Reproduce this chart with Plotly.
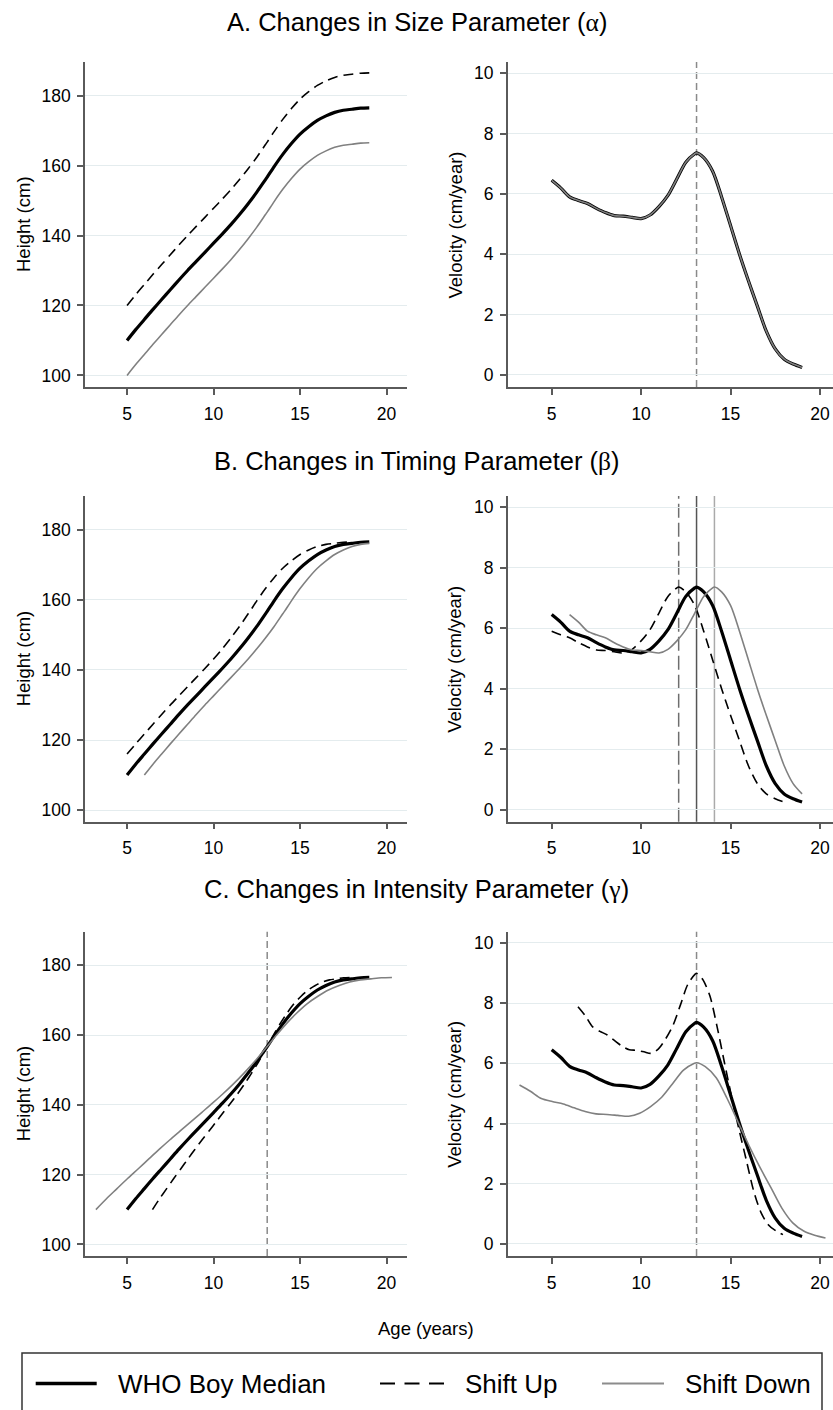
import plotly.graph_objects as go

# ---------------- data ----------------
AGE = [5, 5.5, 6, 6.5, 7, 7.5, 8, 8.5, 9, 9.5, 10, 10.5, 11, 11.5, 12, 12.5,
       13, 13.1, 13.5, 14, 14.5, 15, 15.5, 16, 16.5, 17, 17.5, 18, 18.5, 19]
HEIGHT_MEDIAN = [110.0, 113.1, 116.0, 118.9, 121.7, 124.5, 127.3, 130.0, 132.6, 135.2,
                 137.8, 140.4, 143.1, 146.0, 149.1, 152.4, 156.0, 156.7, 159.7, 163.2,
                 166.3, 169.0, 171.1, 172.9, 174.2, 175.2, 175.8, 176.1, 176.4, 176.5]
VEL_MEDIAN = [6.45, 6.2, 5.9, 5.78, 5.68, 5.52, 5.38, 5.28, 5.26, 5.22,
              5.18, 5.3, 5.58, 5.95, 6.5, 7.05, 7.33, 7.36, 7.2, 6.75,
              5.9, 4.95, 4.0, 3.12, 2.28, 1.45, 0.86, 0.52, 0.36, 0.25]

# Panel A: size shift
HEIGHT_UP_A = [120.0, 123.1, 126.0, 128.9, 131.7, 134.5, 137.3, 140.0, 142.6, 145.2,
               147.8, 150.4, 153.1, 156.0, 159.1, 162.4, 166.0, 166.7, 169.7, 173.2,
               176.3, 179.0, 181.1, 182.9, 184.2, 185.2, 185.8, 186.1, 186.4, 186.5]
HEIGHT_DOWN_A = [100.0, 103.1, 106.0, 108.9, 111.7, 114.5, 117.3, 120.0, 122.6, 125.2,
                 127.8, 130.4, 133.1, 136.0, 139.1, 142.4, 146.0, 146.7, 149.7, 153.2,
                 156.3, 159.0, 161.1, 162.9, 164.2, 165.2, 165.8, 166.1, 166.4, 166.5]
VEL_UP_A = VEL_MEDIAN
VEL_DOWN_A = VEL_MEDIAN
PEAK_A = [13.1]

# Panel B: timing shift
AGE_UP_B = [5, 5.5, 6, 6.5, 7, 7.5, 8, 8.5, 9, 9.5, 10, 10.5, 11, 11.5,
            12, 12.1, 12.5, 13, 13.5, 14, 14.5, 15, 15.5, 16, 16.5, 17, 17.5, 18]
HEIGHT_UP_B = [116.0, 118.9, 121.7, 124.5, 127.3, 130.0, 132.6, 135.2, 137.8, 140.4,
               143.1, 146.0, 149.1, 152.4, 156.0, 156.7, 159.7, 163.2, 166.3, 169.0,
               171.1, 172.9, 174.2, 175.2, 175.8, 176.1, 176.4, 176.5]
VEL_UP_B = [5.9, 5.78, 5.68, 5.52, 5.38, 5.28, 5.26, 5.22, 5.18, 5.3,
            5.58, 5.95, 6.5, 7.05, 7.33, 7.36, 7.2, 6.75, 5.9, 4.95,
            4.0, 3.12, 2.28, 1.45, 0.86, 0.52, 0.36, 0.25]
AGE_DOWN_B = [6, 6.5, 7, 7.5, 8, 8.5, 9, 9.5, 10, 10.5, 11, 11.5, 12, 12.5,
              13, 13.5, 14, 14.1, 14.5, 15, 15.5, 16, 16.5, 17, 17.5, 18, 18.5, 19]
HEIGHT_DOWN_B = [110.0, 113.1, 116.0, 118.9, 121.7, 124.5, 127.3, 130.0, 132.6, 135.2,
                 137.8, 140.4, 143.1, 146.0, 149.1, 152.4, 156.0, 156.7, 159.7, 163.2,
                 166.3, 169.0, 171.1, 172.9, 174.2, 175.2, 175.8, 176.1]
VEL_DOWN_B = [6.45, 6.2, 5.9, 5.78, 5.68, 5.52, 5.38, 5.28, 5.26, 5.22,
              5.18, 5.3, 5.58, 5.95, 6.5, 7.05, 7.33, 7.36, 7.2, 6.75,
              5.9, 4.95, 4.0, 3.12, 2.28, 1.45, 0.86, 0.52]
PEAKS_B = [12.1, 13.1, 14.1]

# Panel C: intensity shift
AGE_UP_C = [6.47, 6.88, 7.29, 7.70, 8.11, 8.52, 8.93, 9.34, 9.75, 10.16,
            10.56, 10.97, 11.38, 11.79, 12.20, 12.61, 13.02, 13.10, 13.43, 13.84,
            14.25, 14.65, 15.06, 15.47, 15.88, 16.29, 16.70, 17.11, 17.52, 17.93]
VEL_UP_C = [7.88, 7.58, 7.21, 7.06, 6.94, 6.75, 6.57, 6.45, 6.43, 6.38,
            6.33, 6.48, 6.82, 7.27, 7.94, 8.62, 8.96, 8.99, 8.80, 8.25,
            7.21, 6.05, 4.89, 3.81, 2.79, 1.77, 1.05, 0.64, 0.44, 0.31]
AGE_DOWN_C = [3.20, 3.81, 4.42, 5.03, 5.65, 6.26, 6.87, 7.48, 8.09, 8.70,
              9.31, 9.92, 10.53, 11.15, 11.76, 12.37, 12.98, 13.10, 13.59, 14.20,
              14.81, 15.42, 16.03, 16.64, 17.26, 17.87, 18.48, 19.09, 19.70, 20.31]
VEL_DOWN_C = [5.28, 5.07, 4.83, 4.73, 4.65, 4.52, 4.40, 4.32, 4.30, 4.27,
              4.24, 4.34, 4.56, 4.87, 5.32, 5.77, 6.00, 6.02, 5.89, 5.52,
              4.83, 4.05, 3.27, 2.55, 1.87, 1.19, 0.70, 0.43, 0.29, 0.20]
HEIGHT_UP_C = HEIGHT_MEDIAN
HEIGHT_DOWN_C = HEIGHT_MEDIAN
PEAK_C = [13.1]

X_TICKS = [5, 10, 15, 20]
H_TICKS = [100, 120, 140, 160, 180]
V_TICKS = [0, 2, 4, 6, 8, 10]

SECTION_TITLES = [
    "A. Changes in Size Parameter (<span style='font-family:Liberation Serif'>\u03b1</span>)",
    "B. Changes in Timing Parameter (<span style='font-family:Liberation Serif'>\u03b2</span>)",
    "C. Changes in Intensity Parameter (<span style='font-family:Liberation Serif'>\u03b3</span>)",
]
LEGEND_LABELS = ["WHO Boy Median", "Shift Up", "Shift Down"]

# ---------------- layout helpers ----------------
W, H = 833, 1410
FONT = "Liberation Sans, Arial, Helvetica, sans-serif"


def px(x):
    return x / W


def py(y):
    return 1 - y / H


ROWS = [(62, 387), (496, 821.7), (931.7, 1256)]
LEFT_X = (85, 407)
RIGHT_X = (507.7, 833)
LEFT_RANGE = [2.57, 21.18]
RIGHT_RANGE = [2.54, 20.73]
H_RANGE = [96.7, 189.6]
V_RANGE = [-0.4, 10.37]
TITLE_Y = [23, 461.5, 889]

AXIS_COLOR = "#5a5a5a"
GRID_COLOR = "#e4ecee"

MED = dict(color="black", width=3.2)
UP = dict(color="black", width=1.6, dash="10px,6px")
DOWN = dict(color="#808080", width=1.6)

fig = go.Figure()
layout = dict(width=W, height=H, margin=dict(l=0, r=0, t=0, b=0),
              paper_bgcolor="white", plot_bgcolor="white", showlegend=False,
              font=dict(family=FONT, color="black"))

panel_data = [
    ([(AGE, HEIGHT_MEDIAN, MED), (AGE, HEIGHT_UP_A, UP), (AGE, HEIGHT_DOWN_A, DOWN)],
     [(AGE, VEL_MEDIAN, MED), (AGE, VEL_UP_A, UP), (AGE, VEL_DOWN_A, DOWN)]),
    ([(AGE, HEIGHT_MEDIAN, MED), (AGE_UP_B, HEIGHT_UP_B, UP), (AGE_DOWN_B, HEIGHT_DOWN_B, DOWN)],
     [(AGE, VEL_MEDIAN, MED), (AGE_UP_B, VEL_UP_B, UP), (AGE_DOWN_B, VEL_DOWN_B, DOWN)]),
    ([(AGE, HEIGHT_MEDIAN, MED), (AGE_UP_C, HEIGHT_UP_C, UP), (AGE_DOWN_C, HEIGHT_DOWN_C, DOWN)],
     [(AGE, VEL_MEDIAN, MED), (AGE_UP_C, VEL_UP_C, UP), (AGE_DOWN_C, VEL_DOWN_C, DOWN)]),
]

shapes = []
annotations = []

for r, (top, bot) in enumerate(ROWS):
    for c in range(2):
        n = r * 2 + c + 1
        sfx = "" if n == 1 else str(n)
        xd = LEFT_X if c == 0 else RIGHT_X
        layout["xaxis" + sfx] = dict(
            domain=[px(xd[0]), px(xd[1])], anchor="y" + sfx,
            range=LEFT_RANGE if c == 0 else RIGHT_RANGE,
            tickvals=X_TICKS, showgrid=False, zeroline=False,
            showline=True, linecolor=AXIS_COLOR, linewidth=1.5,
            ticks="outside", ticklen=6, tickwidth=1.5, tickcolor=AXIS_COLOR,
            tickfont=dict(size=17.5, family=FONT, color="black"),
            ticklabelstandoff=4)
        layout["yaxis" + sfx] = dict(
            domain=[py(bot), py(top)], anchor="x" + sfx,
            range=H_RANGE if c == 0 else V_RANGE,
            tickvals=H_TICKS if c == 0 else V_TICKS,
            showgrid=True, gridcolor=GRID_COLOR, gridwidth=1, zeroline=False,
            showline=True, linecolor=AXIS_COLOR, linewidth=1.5,
            ticks="outside", ticklen=6, tickwidth=1.5, tickcolor=AXIS_COLOR,
            tickfont=dict(size=17.5, family=FONT, color="black"),
            ticklabelstandoff=3)
        for xs, ys, st in panel_data[r][c]:
            fig.add_trace(go.Scatter(
                x=xs, y=ys, mode="lines", xaxis="x" + sfx, yaxis="y" + sfx,
                line=dict(shape="spline", smoothing=0.8, **st),
                hoverinfo="skip", showlegend=False))
        ttl = "Height (cm)" if c == 0 else "Velocity (cm/year)"
        tx = 23.5 if c == 0 else 455
        annotations.append(dict(text=ttl, x=px(tx), y=py((top + bot) / 2),
                                xref="paper", yref="paper", showarrow=False,
                                textangle=-90, xanchor="center", yanchor="middle",
                                font=dict(size=18.5, family=FONT, color="black")))

    annotations.append(dict(text=SECTION_TITLES[r], x=0.5, y=py(TITLE_Y[r]),
                            xref="paper", yref="paper", showarrow=False,
                            xanchor="center", yanchor="middle",
                            font=dict(size=25.5, family=FONT, color="black")))

# reference lines at peak-velocity ages
REF_DASH = dict(color="#8a8a8a", width=1.5, dash="7px,4px")
for xv in PEAK_A:
    shapes.append(dict(type="line", x0=xv, x1=xv, y0=0, y1=1, xref="x2", yref="y2 domain",
                       line=REF_DASH, layer="below"))
B_STYLES = [dict(color="#6e6e6e", width=1.5, dash="14px,5px"),
            dict(color="#555555", width=1.5),
            dict(color="#aaaaaa", width=1.5)]
for xv, st in zip(PEAKS_B, B_STYLES):
    shapes.append(dict(type="line", x0=xv, x1=xv, y0=0, y1=1, xref="x4", yref="y4 domain",
                       line=st, layer="below"))
for xv in PEAK_C:
    for ax in ("5", "6"):
        shapes.append(dict(type="line", x0=xv, x1=xv, y0=0, y1=1, xref="x" + ax,
                           yref="y" + ax + " domain", line=REF_DASH, layer="below"))

# shared x-axis title
annotations.append(dict(text="Age (years)", x=px(426), y=py(1328), xref="paper", yref="paper",
                        showarrow=False, xanchor="center", yanchor="middle",
                        font=dict(size=18.5, family=FONT, color="black")))

# legend box (drawn manually)
shapes.append(dict(type="rect", x0=px(22), x1=px(822), y0=py(1353), y1=py(1420),
                   xref="paper", yref="paper", line=dict(color="#333333", width=1.5)))
LEG_Y = 1383.5
leg_items = [((35.7, 96.7), dict(color="black", width=3.5), 116),
             ((380, 444), dict(color="black", width=2, dash="15px,9.5px"), 462.5),
             ((602, 664), dict(color="#8c8c8c", width=2), 682.5)]
for (lx0, lx1), st, tx in leg_items:
    shapes.append(dict(type="line", x0=px(lx0), x1=px(lx1), y0=py(LEG_Y), y1=py(LEG_Y),
                       xref="paper", yref="paper", line=st))
for (_, _, tx), lab in zip(leg_items, LEGEND_LABELS):
    annotations.append(dict(text=lab, x=px(tx), y=py(LEG_Y + 0.5), xref="paper", yref="paper",
                            showarrow=False, xanchor="left", yanchor="middle",
                            font=dict(size=26, family=FONT, color="black")))

layout["shapes"] = shapes
layout["annotations"] = annotations
fig.update_layout(**layout)
fig.write_html("out.html", config={"displayModeBar": False},
               post_script="document.body.style.margin='0px';document.body.style.padding='0px';")
